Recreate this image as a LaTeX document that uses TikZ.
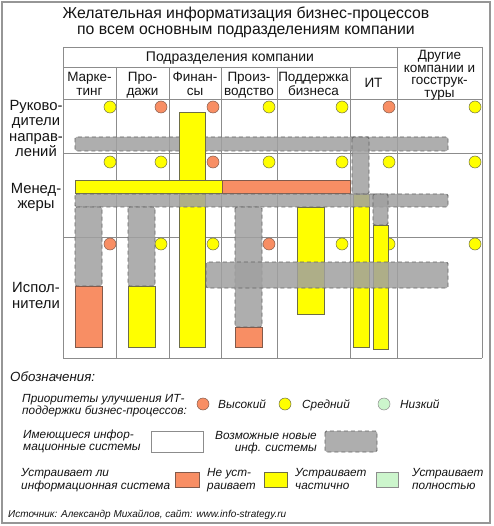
\documentclass[tikz,border=0pt]{standalone}
\usepackage{fontspec}
\setmainfont{Liberation Sans}
\newcommand\myfs[1]{\fontsize{#1}{#1}\selectfont}
\definecolor{ora}{RGB}{248,142,100}
\definecolor{yel}{RGB}{255,255,0}
\definecolor{grn}{RGB}{204,245,204}
\definecolor{gbarc}{RGB}{160,160,160}
\definecolor{gbord}{RGB}{100,100,100}
\definecolor{gridc}{RGB}{140,140,140}
\definecolor{framec}{RGB}{150,150,150}
\definecolor{ybord}{RGB}{110,110,70}
\definecolor{obord}{RGB}{130,90,75}
\definecolor{txt}{RGB}{20,20,20}
\begin{document}
\begin{tikzpicture}[x=1pt,y=-1pt,
  gridline/.style={draw=gridc,line width=0.8pt},
  ybar/.style={fill=yel,draw=ybord,line width=0.6pt},
  obar/.style={fill=ora,draw=obord,line width=0.6pt},
  gbarst/.style={fill=gbarc,fill opacity=0.85,draw=gbord,line width=0.9pt,dash pattern=on 4pt off 3pt,rounded corners=1.5pt},
  dotY/.style={fill=yel,draw=ybord,line width=0.5pt},
  dotO/.style={fill=ora,draw=obord,line width=0.5pt},
  dotG/.style={fill=grn,draw=gridc,line width=0.5pt},
  lbl/.style={inner sep=0pt,anchor=base,text=txt},
  lbw/.style={inner sep=0pt,anchor=base west,text=txt},
  lbe/.style={inner sep=0pt,anchor=base east,text=txt},
  ttl/.style={font=\myfs{15.8}},
  hdr/.style={font=\myfs{13.5}},
  rowl/.style={font=\myfs{14.8}},
  leg/.style={font=\myfs{11.8}\itshape},
  legbox/.style={draw=gridc,line width=0.8pt}
]
\useasboundingbox (0,0) rectangle (493,526);
\fill[white] (0,0) rectangle (493,526);
\draw[draw=framec,line width=1.2pt] (2,2) rectangle (490,523);

% title
\node[lbl,ttl] (t1) at (246,18.5) {Желательная информатизация бизнес-процессов};
\node[lbl,ttl] (t2) at (246,34.5) {по всем основным подразделениям компании};

% grid
\draw[gridline] (63,47) -- (482,47);
\draw[gridline] (63,67) -- (397,67);
\draw[gridline] (63,99) -- (482,99);
\draw[gridline] (63,153) -- (482,153);
\draw[gridline] (63,237) -- (482,237);
\draw[gridline] (63,358) -- (482,358);
\draw[gridline] (63,47) -- (63,358);
\foreach \xx in {116,169,221,277,350} {\draw[gridline] (\xx,67) -- (\xx,358);}
\draw[gridline] (397,47) -- (397,358);
\draw[gridline] (482,47) -- (482,358);

% header texts
\node[lbl,font=\myfs{14}] (h0) at (230,62) {Подразделения компании};
\node[lbl,hdr] (c1a) at (89.5,82) {Марке-};
\node[lbl,hdr] (c1b) at (89.5,95.5) {тинг};
\node[lbl,hdr] (c2a) at (142.5,82) {Про-};
\node[lbl,hdr] (c2b) at (142.5,95.5) {дажи};
\node[lbl,hdr] (c3a) at (195,82) {Финан-};
\node[lbl,hdr] (c3b) at (195,95.5) {сы};
\node[lbl,hdr] (c4a) at (249,82) {Произ-};
\node[lbl,hdr] (c4b) at (249,95.5) {водство};
\node[lbl,hdr] (c5a) at (313.5,82) {Поддержка};
\node[lbl,hdr] (c5b) at (313.5,95.5) {бизнеса};
\node[lbl,hdr] (c6) at (373.5,88) {ИТ};
\node[lbl,hdr] (c7a) at (439.5,60) {Другие};
\node[lbl,hdr] (c7b) at (439.5,72.5) {компании и};
\node[lbl,hdr] (c7c) at (439.5,85) {госструк-};
\node[lbl,hdr] (c7d) at (439.5,97.5) {туры};

% row labels
\node[lbl,rowl] (r1a) at (36,110.5) {Руково-};
\node[lbl,rowl] (r1b) at (36,126) {дители};
\node[lbl,rowl] (r1c) at (36,141.5) {направ-};
\node[lbl,rowl] (r1d) at (36,157) {лений};
\node[lbl,rowl] (r2a) at (36,193.5) {Менед-};
\node[lbl,rowl] (r2b) at (36,209) {жеры};
\node[lbl,rowl] (r3a) at (36,292.5) {Испол-};
\node[lbl,rowl] (r3b) at (36,308.5) {нители};

% priority dots
\foreach \xx/\st in {110/dotY,161/dotO,213/dotO,269/dotY,342/dotY,389/dotO,475/dotY}
  {\draw[\st] (\xx,107) circle[radius=6pt];}
\foreach \xx/\st in {110/dotY,161/dotY,213/dotO,269/dotY,342/dotY,389/dotY,475/dotY}
  {\draw[\st] (\xx,162) circle[radius=6pt];}
\foreach \xx/\st in {110/dotO,161/dotY,213/dotY,269/dotO,342/dotY,389/dotY,475/dotY}
  {\draw[\st] (\xx,244) circle[radius=6pt];}

% bars
\path[gbarst] (75,137) rectangle (448,151);
\path[ybar] (179,112) rectangle (205,347);
\path[gbarst] (352,137) rectangle (369,194);
\path[ybar] (75,180) rectangle (222,193);
\path[obar] (222,180) rectangle (350,193);
\path[ybar] (353,194) rectangle (369,347);
\path[ybar] (373,225) rectangle (388,349);
\path[gbarst] (75,194) rectangle (448,207);
\path[gbarst] (373,194) rectangle (388,225);
\path[gbarst] (75,207) rectangle (102,286);
\path[obar] (75,286) rectangle (102,347);
\path[gbarst] (128,207) rectangle (155,286);
\path[ybar] (128,286) rectangle (155,347);
\path[gbarst] (235,207) rectangle (262,327);
\path[obar] (235,327) rectangle (262,347);
\path[ybar] (297,207) rectangle (324,314);
\path[gbarst] (206,262) rectangle (448,288);

% legend
\node[lbw,font=\myfs{13.3}\itshape] (lg0) at (10,381) {Обозначения:};
\node[lbw,leg] (lg1a) at (22,402) {Приоритеты улучшения ИТ-};
\node[lbw,leg] (lg1b) at (22,414) {поддержки бизнес-процессов:};
\draw[dotO] (203,404) circle[radius=6pt];
\draw[dotY] (285,404) circle[radius=6pt];
\draw[dotG] (384,404) circle[radius=6pt];
\node[lbw,leg] (lgh) at (218,408) {Высокий};
\node[lbw,leg] (lgm) at (302,408) {Средний};
\node[lbw,leg] (lgl) at (400,408) {Низкий};
\node[lbw,leg] (lg2a) at (23,438) {Имеющиеся инфор-};
\node[lbw,leg] (lg2b) at (23,450) {мационные системы};
\draw[legbox,fill=white] (151,431) rectangle (203,452);
\node[lbe,leg] (lg3a) at (317,439) {Возможные новые};
\node[lbe,leg] (lg3b) at (317,451) {инф. системы};
\path[gbarst] (325,431) rectangle (377,452);
\node[lbw,leg] (lg4a) at (21,476) {Устраивает ли};
\node[lbw,leg] (lg4b) at (21,489) {информационная система};
\draw[obar] (175,472) rectangle (199,487);
\node[lbw,leg] (lg5a) at (207,476) {Не уст-};
\node[lbw,leg] (lg5b) at (207,489) {раивает};
\draw[ybar] (264,472) rectangle (287,487);
\node[lbw,leg] (lg6a) at (295,476) {Устраивает};
\node[lbw,leg] (lg6b) at (295,489) {частично};
\draw[legbox,fill=grn] (376,472) rectangle (398,487);
\node[lbw,leg] (lg7a) at (412,476) {Устраивает};
\node[lbw,leg] (lg7b) at (412,489) {полностью};
\node[lbw,font=\myfs{10}\itshape] (src) at (8,517) {Источник: Александр Михайлов, сайт: www.info-strategy.ru};
\end{tikzpicture}
\end{document}
